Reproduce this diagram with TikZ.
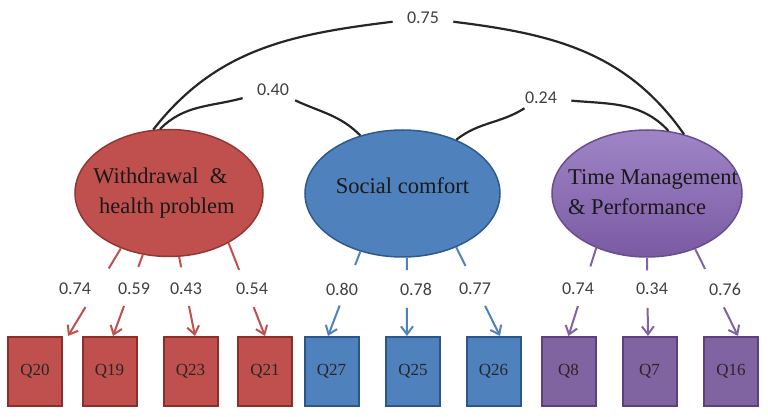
\documentclass[tikz,border=0pt]{standalone}
\usepackage{fontspec}
\setmainfont{Liberation Serif}
\newfontfamily\numfont{Carlito}
\definecolor{withred}{rgb}{0.753,0.314,0.302}
\definecolor{withredD}{rgb}{0.580,0.212,0.204}
\definecolor{withredB}{rgb}{0.545,0.180,0.173}
\definecolor{socblue}{rgb}{0.310,0.506,0.741}
\definecolor{socblueD}{rgb}{0.173,0.353,0.561}
\definecolor{socblueB}{rgb}{0.169,0.337,0.529}
\definecolor{timepurple}{rgb}{0.502,0.392,0.635}
\definecolor{timepurpleT}{rgb}{0.624,0.522,0.776}
\definecolor{timepurpleL}{rgb}{0.478,0.353,0.639}
\definecolor{timepurpleD}{rgb}{0.416,0.298,0.573}
\definecolor{timepurpleB}{rgb}{0.361,0.255,0.502}
\usetikzlibrary{arrows.meta,calc,shapes.geometric}

\begin{document}
\begin{tikzpicture}[x=0.5pt,y=-0.5pt]
  \tikzstyle{factor} = [ellipse,inner sep=0pt,minimum height=63.5pt,line width=0.75pt,font=\fontsize{11.25}{15}\selectfont,text=black!90]
  \tikzstyle{item} = [rectangle,inner sep=0pt,minimum width=27pt,minimum height=34.5pt,line width=1pt,font=\fontsize{8.5}{10}\selectfont,text=black!85]
  \tikzstyle{coef} = [inner xsep=7pt,inner ysep=2pt,font=\numfont\fontsize{9}{11}\selectfont,text=black!75]
  \tikzstyle{corr} = [line width=1.1pt,draw=black!85]
  \tikzstyle{load} = [line width=1pt]
  \tikzstyle{loadtip} = [load,-{Straight Barb[length=4pt,width=6pt]}]

  \useasboundingbox (0,0) rectangle (768,417);

  % factors
  \node[factor,minimum width=94pt,fill=withred,draw=withredD] (W) at (169,193)
    {\makebox[0pt]{\kern-5pt\begin{tabular}{@{}l@{}}Withdrawal\ \ \&\\\ health problem\end{tabular}}};
  \node[factor,minimum width=97.5pt,fill=socblue,draw=socblueD,text height=6pt,text depth=6pt] (S) at (402.5,193.5) {Social comfort};
  \node[factor,minimum width=95pt,top color=timepurpleT,bottom color=timepurpleL,draw=timepurpleD] (T) at (647,193.5)
    {\makebox[0pt]{\kern6pt\begin{tabular}{@{}l@{}}Time Management\\\& Performance\end{tabular}}};

  % items
  \node[item,fill=withred,draw=withredB] (Q20) at (35,371.5) {Q20};
  \node[item,fill=withred,draw=withredB] (Q19) at (109.5,371.5) {Q19};
  \node[item,fill=withred,draw=withredB] (Q23) at (190.5,371.5) {Q23};
  \node[item,fill=withred,draw=withredB] (Q21) at (265,371.5) {Q21};
  \node[item,fill=socblue,draw=socblueB] (Q27) at (331.5,371.5) {Q27};
  \node[item,fill=socblue,draw=socblueB] (Q25) at (413,371.5) {Q25};
  \node[item,fill=socblue,draw=socblueB] (Q26) at (493.5,371.5) {Q26};
  \node[item,fill=timepurple,draw=timepurpleB] (Q8) at (568.5,371.5) {Q8};
  \node[item,fill=timepurple,draw=timepurpleB] (Q7) at (649.5,371.5) {Q7};
  \node[item,fill=timepurple,draw=timepurpleB] (Q16) at (731,371.5) {Q16};

  % loadings
  \node[coef] (l20) at (75,289) {0.74};
  \node[coef] (l19) at (134,289) {0.59};
  \node[coef] (l23) at (186,289) {0.43};
  \node[coef] (l21) at (252,289) {0.54};
  \node[coef] (l27) at (342,289) {0.80};
  \node[coef] (l25) at (416,289) {0.78};
  \node[coef] (l26) at (475,289) {0.77};
  \node[coef] (l8) at (578,289) {0.74};
  \node[coef] (l7) at (652,289) {0.34};
  \node[coef] (l16) at (725,289) {0.76};

  \foreach \q/\a/\dx/\fa/\fb in {Q20/-131/16.5pt/.23/.67, Q19/-113/1.75pt/.15/.63, Q23/-81/2.25pt/.13/.62, Q21/-40/0pt/.29/.69}{
    \draw[load,draw=withred] (W.\a) -- ($(W.\a)!\fa!([xshift=\dx]\q.north)$);
    \draw[loadtip,draw=withred] ($(W.\a)!\fb!([xshift=\dx]\q.north)$) -- ([xshift=\dx]\q.north);
  }
  \foreach \q/\a/\dx/\fa/\fb in {Q27/-126/-1.75pt/.16/.64, Q25/-86/-3pt/.16/.64, Q26/-45/3.25pt/.21/.66}{
    \draw[load,draw=socblue] (S.\a) -- ($(S.\a)!\fa!([xshift=\dx]\q.north)$);
    \draw[loadtip,draw=socblue] ($(S.\a)!\fb!([xshift=\dx]\q.north)$) -- ([xshift=\dx]\q.north);
  }
  \foreach \q/\a/\dx/\fa/\fb in {Q8/-133/0pt/.21/.66, Q7/-90/-0.75pt/.16/.64, Q16/-49/3.5pt/.23/.67}{
    \draw[load,draw=timepurple] (T.\a) -- ($(T.\a)!\fa!([xshift=\dx]\q.north)$);
    \draw[loadtip,draw=timepurple] ($(T.\a)!\fb!([xshift=\dx]\q.north)$) -- ([xshift=\dx]\q.north);
  }

  % correlations
  \node[coef] (r075) at (423,18) {0.75};
  \node[coef] (r040) at (273,90) {0.40};
  \node[coef] (r024) at (541,98) {0.24};
  \draw[corr] (W.104) to[out=52,in=187] (r075);
  \draw[corr] (r075) to[out=-7,in=125] (T.58);
  \draw[corr] (W.98) to[out=45,in=195] (r040);
  \draw[corr] (r040) to[out=-25,in=135] (S.126);
  \draw[corr] (S.45) to[out=38,in=212] (r024);
  \draw[corr] (r024) to[out=-5,in=133] (T.71);
\end{tikzpicture}
\end{document}
